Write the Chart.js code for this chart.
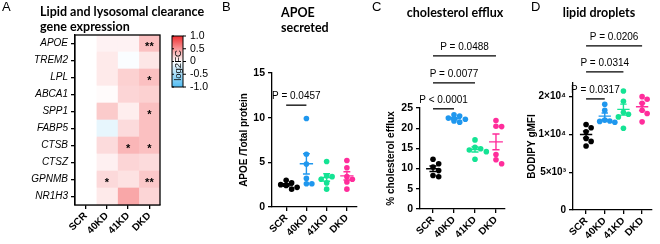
<!DOCTYPE html>
<html>
<head>
<meta charset="utf-8">
<script src="https://cdn.jsdelivr.net/npm/chart.js@4.4.0/dist/chart.umd.min.js"></script>
<style>
  body { margin: 0; background: #fff; width: 660px; height: 244px; position: relative; overflow: hidden; }
  canvas { position: absolute; top: 0; }
</style>
</head>
<body>
<canvas id="heat" width="215" height="244" style="left:0px"></canvas>
<canvas id="apoe" width="150" height="244" style="left:215px"></canvas>
<canvas id="efflux" width="150" height="244" style="left:365px"></canvas>
<canvas id="lipid" width="145" height="244" style="left:515px"></canvas>
<script>
const groups = ['SCR', '40KD', '41KD', 'DKD'];
const groupColors = ['#000000', '#1f97ee', '#14e394', '#ff2d9b'];

// A: heatmap, log2 fold change per gene
const genes = ['APOE', 'TREM2', 'LPL', 'ABCA1', 'SPP1', 'FABP5', 'CTSB', 'CTSZ', 'GPNMB', 'NR1H3'];
const fcSCR  = [0, 0, 0, 0, 0, 0, 0, 0, 0, 0];
const fc40KD = [0.06, 0.1, 0.1, 0.02, 0.25, -0.14, 0.17, 0.07, 0.18, 0.1];
const fc41KD = [0.06, -0.03, 0.22, 0.2, 0.08, 0.17, 0.35, 0.2, 0.14, 0.42];
const fcDKD  = [0.3, 0.12, 0.3, 0.22, 0.3, 0.3, 0.3, 0.17, 0.26, 0.2];
const starsSCR  = ['', '', '', '', '', '', '', '', '', ''];
const stars40KD = ['', '', '', '', '', '', '', '', '*', ''];
const stars41KD = ['', '', '', '', '', '', '*', '', '', ''];
const starsDKD  = ['**', '', '*', '', '*', '', '*', '', '**', ''];
const cbarTicks = [1, 0.5, 0, -0.5, -1];
const cbarLabels = ['1.0', '0.5', '0', '-0.5', '-1.0'];

// B: APOE secreted
const apoeSCR  = [3.0, 2.7, 2.5, 2.4, 2.2, 2.0];
const apoe40KD = [9.9, 5.9, 4.8, 3.2, 2.6, 2.6];
const apoe41KD = [5.1, 3.5, 3.4, 3.1, 2.7, 2.0];
const apoeDKD  = [5.2, 4.4, 3.4, 3.1, 2.8, 2.0];
const apoeTicks = [0, 5, 10, 15];

// C: cholesterol efflux
const effluxSCR  = [12.3, 11.2, 10.4, 9.5, 8.3, 8.0];
const efflux40KD = [23.3, 23.0, 22.5, 22.2, 21.8, 21.5];
const efflux41KD = [17.1, 15.3, 14.9, 14.6, 14.2, 12.3];
const effluxDKD  = [21.9, 20.5, 20.4, 13.5, 12.2, 11.2];
const effluxTicks = [0, 5, 10, 15, 20, 25];

// D: lipid droplets (BODIPY gMFI)
const lipidSCR  = [12000, 11300, 10500, 9300, 8800, 8100];
const lipid40KD = [17400, 15600, 13000, 12800, 12700, 12500];
const lipid41KD = [22200, 18400, 15000, 14500, 13800, 11200];
const lipidDKD  = [20000, 19100, 17700, 15600, 14700, 12600];
const lipidTicks = [2500, 5000, 10000, 20000];
const lipidTickLabels = ['0', '5×10³', '1×10⁴', '2×10⁴'];

// significance brackets: group from, group to, height (data units), text
const apoeBrackets = [
  { from: 0, to: 1, y: 11.4, text: 'P = 0.0457' }
];
const effluxBrackets = [
  { from: 0, to: 1, y: 24.8, text: 'P < 0.0001' },
  { from: 0, to: 2, y: 31.2, text: 'P = 0.0077' },
  { from: 0, to: 3, y: 37.9, text: 'P = 0.0488' }
];
const lipidBrackets = [
  { from: 0, to: 1, y: 19200, text: 'P = 0.0317' },
  { from: 0, to: 2, y: 31500, text: 'P = 0.0314' },
  { from: 0, to: 3, y: 50800, text: 'P = 0.0206' }
];

Chart.defaults.font.family = '"Liberation Sans", Arial, sans-serif';
Chart.defaults.color = '#000';
Chart.defaults.animation = false;

const SANS = '"Liberation Sans", Arial, sans-serif';
const TITLE = 'Lato, "Open Sans", sans-serif';

function fcColor(v) {
  const hot = [240, 45, 48];
  const cold = [80, 188, 242];
  const c = v >= 0 ? hot : cold;
  const t = Math.min(Math.abs(v), 1);
  const mix = c.map(ch => Math.round(255 + (ch - 255) * t));
  return `rgb(${mix[0]},${mix[1]},${mix[2]})`;
}

function drawHeader(ctx, letter, letterX, lines) {
  ctx.fillStyle = '#000';
  ctx.textBaseline = 'middle';
  ctx.textAlign = 'left';
  ctx.font = '13px ' + SANS;
  ctx.fillText(letter, letterX, 7);
  ctx.font = 'bold 12.5px ' + TITLE;
  lines.forEach(l => {
    ctx.textAlign = l.align || 'left';
    ctx.fillText(l.text, l.x, l.y);
  });
}

// ---------- A: heatmap ----------
const heatValues = [fcSCR, fc40KD, fc41KD, fcDKD];
const heatStars = [starsSCR, stars40KD, stars41KD, starsDKD];

const heatDecor = {
  id: 'heatDecor',
  afterDraw(chart) {
    const ctx = chart.ctx;
    const a = chart.chartArea;
    const xs = chart.scales.x, ys = chart.scales.y;
    ctx.save();
    ctx.strokeStyle = '#000';
    ctx.lineWidth = 1.3;
    ctx.strokeRect(a.left, a.top, a.right - a.left, a.bottom - a.top);

    ctx.fillStyle = '#000';
    ctx.font = 'bold 11px ' + SANS;
    ctx.textAlign = 'center';
    ctx.textBaseline = 'middle';
    heatStars.forEach((col, i) => {
      col.forEach((s, j) => {
        if (s) ctx.fillText(s, xs.getPixelForValue(i + 0.5), ys.getPixelForValue(j) + 3);
      });
    });

    // colour bar
    const bx = 172, bw = 11, by = 36, bh = 51;
    const g = ctx.createLinearGradient(0, by, 0, by + bh);
    g.addColorStop(0, fcColor(1));
    g.addColorStop(0.5, fcColor(0));
    g.addColorStop(1, fcColor(-1));
    ctx.fillStyle = g;
    ctx.fillRect(bx, by, bw, bh);
    ctx.lineWidth = 1;
    ctx.strokeRect(bx, by, bw, bh);
    ctx.fillStyle = '#000';
    ctx.font = '10.5px ' + SANS;
    ctx.textAlign = 'left';
    cbarTicks.forEach((v, k) => {
      const y = by + (1 - v) / 2 * bh;
      ctx.beginPath();
      ctx.moveTo(bx + bw, y); ctx.lineTo(bx + bw + 3, y);
      ctx.moveTo(bx, y); ctx.lineTo(bx + 2, y);
      ctx.stroke();
      ctx.fillText(cbarLabels[k], 190, y);
    });
    ctx.save();
    ctx.translate(bx + bw / 2 + 0.5, by + bh / 2 + 4);
    ctx.rotate(-Math.PI / 2);
    ctx.font = '9.5px ' + SANS;
    ctx.textAlign = 'center';
    ctx.fillText('log2FC', 0, 0);
    ctx.restore();

    drawHeader(ctx, 'A', 2, [
      { text: 'Lipid and lysosomal clearance', x: 40, y: 12 },
      { text: 'gene expression', x: 40, y: 27 }
    ]);
    ctx.restore();
  }
};

new Chart(document.getElementById('heat'), {
  type: 'bar',
  data: {
    labels: genes,
    datasets: groups.map((g, i) => ({
      label: g,
      data: genes.map(() => 1),
      backgroundColor: heatValues[i].map(fcColor),
      borderWidth: 0,
      barPercentage: 1,
      categoryPercentage: 1
    }))
  },
  options: {
    indexAxis: 'y',
    responsive: false,
    layout: { padding: { left: 0, right: 55, top: 35, bottom: 0 } },
    plugins: { legend: { display: false }, tooltip: { enabled: false } },
    scales: {
      x: {
        type: 'linear', stacked: true, min: 0, max: 4,
        afterBuildTicks: s => { s.ticks = groups.map((g, i) => ({ value: i + 0.5 })); },
        afterFit: s => { s.height = 39; },
        ticks: {
          callback: v => groups[Math.floor(v)],
          minRotation: 45, maxRotation: 45, padding: 1,
          font: { weight: 'bold', size: 10 }
        },
        grid: { drawOnChartArea: false, color: '#000', tickLength: 4, lineWidth: 1.3 },
        border: { color: '#000', width: 1.3 }
      },
      y: {
        stacked: true,
        afterFit: s => { s.width = 75; },
        ticks: { font: { style: 'italic', size: 10 }, padding: 3 },
        grid: { offset: false, drawOnChartArea: false, color: '#000', tickLength: 4, lineWidth: 1.3 },
        border: { color: '#000', width: 1.3 }
      }
    }
  },
  plugins: [heatDecor]
});

// ---------- B-D: dot plots with mean ± SEM ----------
function meanSem(vals) {
  const n = vals.length;
  const m = vals.reduce((a, b) => a + b, 0) / n;
  const sd = Math.sqrt(vals.reduce((a, b) => a + (b - m) ** 2, 0) / (n - 1));
  return [m, sd / Math.sqrt(n)];
}

// simple beeswarm offsets so that overlapping dots sit side by side
function swarm(vals, thr, step, tf) {
  const placed = [];
  return vals.map(v => {
    const tv = tf(v);
    const cands = [0, step, -step, 2 * step, -2 * step, 3 * step, -3 * step];
    for (const dx of cands) {
      const free = placed.every(p => ((p.v - tv) / thr) ** 2 + ((p.dx - dx) / step) ** 2 >= 0.95);
      if (free) { placed.push({ v: tv, dx }); return dx; }
    }
    return 0;
  });
}

function dotPanel(id, cfg) {
  const datasets = [];
  cfg.series.forEach((vals, i) => {
    const color = groupColors[i];
    const [m, s] = meanSem(vals);
    const jit = swarm(vals, cfg.thr, 0.27, cfg.tf || (v => v));
    datasets.push({
      data: vals.map((v, k) => ({ x: i + jit[k], y: v })),
      backgroundColor: color, borderColor: color,
      pointRadius: 2.8, borderWidth: 0, showLine: false, order: 2
    });
    datasets.push({
      data: [
        { x: i - 0.33, y: m }, { x: i + 0.33, y: m }, { x: i, y: null },
        { x: i - 0.17, y: m + s }, { x: i + 0.17, y: m + s }, { x: i, y: null },
        { x: i, y: m + s }, { x: i, y: m - s }, { x: i, y: null },
        { x: i - 0.17, y: m - s }, { x: i + 0.17, y: m - s }
      ],
      borderColor: color, borderWidth: 1.4, pointRadius: 0,
      showLine: true, spanGaps: false, order: 1
    });
  });

  const decor = {
    id: 'decor',
    afterDraw(chart) {
      const ctx = chart.ctx;
      const xs = chart.scales.x, ys = chart.scales.y;
      ctx.save();
      ctx.strokeStyle = '#000';
      ctx.fillStyle = '#000';
      ctx.lineWidth = 1.3;
      ctx.font = '10px ' + SANS;
      ctx.textAlign = 'center';
      ctx.textBaseline = 'middle';
      cfg.brackets.forEach(b => {
        const x1 = xs.getPixelForValue(b.from), x2 = xs.getPixelForValue(b.to);
        const y = ys.getPixelForValue(b.y);
        ctx.beginPath();
        ctx.moveTo(x1, y); ctx.lineTo(x2, y);
        ctx.stroke();
        ctx.fillText(b.text, (x1 + x2) / 2, y - 9);
      });
      drawHeader(ctx, cfg.letter, cfg.letterX, cfg.title);
      ctx.restore();
    }
  };

  return new Chart(document.getElementById(id), {
    type: 'scatter',
    data: { datasets },
    options: {
      responsive: false,
      layout: { padding: cfg.padding },
      plugins: { legend: { display: false }, tooltip: { enabled: false } },
      scales: {
        x: {
          type: 'linear', min: cfg.xMin, max: cfg.xMax,
          afterBuildTicks: s => { s.ticks = groups.map((g, i) => ({ value: i })); },
          afterFit: s => { s.height = cfg.xHeight; },
          ticks: {
            callback: v => groups[v],
            minRotation: 45, maxRotation: 45, padding: 1,
            font: { weight: 'bold', size: 10 }
          },
          grid: { drawOnChartArea: false, color: '#000', tickLength: 4, lineWidth: 1.3 },
          border: { color: '#000', width: 1.3 }
        },
        y: Object.assign({
          afterFit: s => { s.width = cfg.yWidth; },
          title: { display: true, text: cfg.yTitle, font: { weight: 'bold', size: 10 }, padding: { top: 0, bottom: 0 } },
          grid: { drawOnChartArea: false, color: '#000', tickLength: 4, lineWidth: 1.3 },
          border: { color: '#000', width: 1.3 }
        }, cfg.y)
      }
    },
    plugins: [decor]
  });
}

dotPanel('apoe', {
  series: [apoeSCR, apoe40KD, apoe41KD, apoeDKD],
  brackets: apoeBrackets,
  thr: 0.6,
  letter: 'B', letterX: 7,
  title: [{ text: 'APOE', x: 66, y: 13 }, { text: 'secreted', x: 66, y: 28 }],
  padding: { left: 23, right: 8, top: 73, bottom: 0 },
  xMin: -0.7, xMax: 3.5, xHeight: 37, yWidth: 34,
  yTitle: 'APOE /Total protein',
  y: {
    min: 0, max: 15,
    afterBuildTicks: s => { s.ticks = apoeTicks.map(v => ({ value: v })); },
    ticks: { font: { weight: 'bold', size: 10.5 }, padding: 3 }
  }
});

dotPanel('efflux', {
  series: [effluxSCR, efflux40KD, efflux41KD, effluxDKD],
  brackets: effluxBrackets,
  thr: 1.2,
  letter: 'C', letterX: 7,
  title: [{ text: 'cholesterol efflux', x: 90, y: 13, align: 'center' }],
  padding: { left: 20, right: 10, top: 108, bottom: 0 },
  xMin: -0.62, xMax: 3.43, xHeight: 35, yWidth: 35,
  yTitle: '% cholesterol efflux',
  y: {
    min: 0, max: 25,
    afterBuildTicks: s => { s.ticks = effluxTicks.map(v => ({ value: v })); },
    ticks: { font: { weight: 'bold', size: 10.5 }, padding: 3 }
  }
});

dotPanel('lipid', {
  series: [lipidSCR, lipid40KD, lipid41KD, lipidDKD],
  brackets: lipidBrackets,
  thr: 0.15, tf: v => Math.log2(v),
  letter: 'D', letterX: 16,
  title: [{ text: 'lipid droplets', x: 84, y: 13, align: 'center' }],
  padding: { left: 11, right: 8, top: 83, bottom: 0 },
  xMin: -0.7, xMax: 3.53, xHeight: 34, yWidth: 47,
  yTitle: 'BODIPY gMFI',
  y: {
    type: 'logarithmic', min: 2500, max: 25700,
    afterBuildTicks: s => { s.ticks = lipidTicks.map(v => ({ value: v })); },
    ticks: {
      callback: v => lipidTickLabels[lipidTicks.indexOf(v)],
      font: { weight: 'bold', size: 10 }, padding: 3
    }
  }
});
</script>
</body>
</html>
